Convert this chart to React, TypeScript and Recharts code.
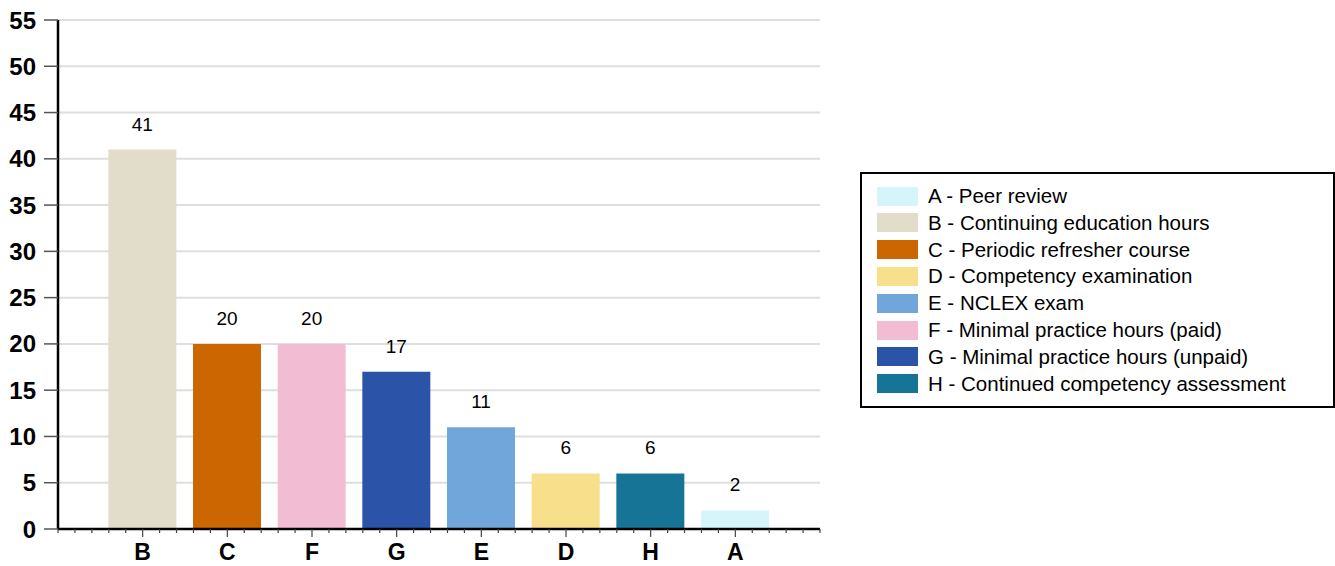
import React from 'react';
import { BarChart, Bar, XAxis, YAxis, CartesianGrid, Cell, LabelList } from 'recharts';

const categories = ['B', 'C', 'F', 'G', 'E', 'D', 'H', 'A'];
const values = [41, 20, 20, 17, 11, 6, 6, 2];
const barColors = ['#e2dccb', '#cc6600', '#f2bcd3', '#2b54a8', '#71a6da', '#f8df8b', '#167496', '#d6f5fa'];

const legendLabels = [
  'A - Peer review',
  'B - Continuing education hours',
  'C - Periodic refresher course',
  'D - Competency examination',
  'E - NCLEX exam',
  'F - Minimal practice hours (paid)',
  'G - Minimal practice hours (unpaid)',
  'H - Continued competency assessment',
];
const legendColors = ['#d6f5fa', '#e2dccb', '#cc6600', '#f8df8b', '#71a6da', '#f2bcd3', '#2b54a8', '#167496'];

const yTicks = [0, 5, 10, 15, 20, 25, 30, 35, 40, 45, 50, 55];
const xTicks = Array.from({ length: 46 }, (_, i) => Math.round(i * 2) / 10);

const data = categories.map((c, i) => ({ pos: i + 1, name: c, value: values[i], color: barColors[i] }));

const FONT = '"Liberation Sans", Arial, sans-serif';

const XTick = (props: any) => {
  const { x, y, payload } = props;
  const v = payload.value;
  const r = Math.round(v);
  const isMajor = Math.abs(v - r) < 1e-6 && r >= 1 && r <= 8;
  return (
    <g>
      <line x1={x} x2={x} y1={y} y2={y + (isMajor ? 8 : 4)} stroke="#444" strokeWidth={1.2} />
      {isMajor && (
        <text x={x} y={y + 31} textAnchor="middle" fontSize={23} fontWeight="bold" fill="#000" fontFamily={FONT}>
          {categories[r - 1]}
        </text>
      )}
    </g>
  );
};

const BarValueLabel = (props: any) => {
  const { x, y, width, value } = props;
  return (
    <text
      x={Number(x) + Number(width) / 2}
      y={Number(y) - 19}
      textAnchor="middle"
      fontSize={19}
      fill="#000"
      fontFamily={FONT}
    >
      {value}
    </text>
  );
};

export default function App() {
  return (
    <div style={{ position: 'absolute', left: 0, top: 0, width: 1335, height: 566, background: '#fff', fontFamily: FONT }}>
      <BarChart
        width={1335}
        height={566}
        data={data}
        margin={{ top: 20, right: 515, bottom: 0, left: 0 }}
      >
        <CartesianGrid horizontal vertical={false} stroke="#dedede" strokeWidth={2} />
        <XAxis
          dataKey="pos"
          type="number"
          domain={[0, 9]}
          ticks={xTicks}
          interval={0}
          height={37}
          tickSize={0}
          tickMargin={0}
          tickLine={false}
          tick={<XTick />}
          axisLine={{ stroke: '#000', strokeWidth: 2.5 }}
        />
        <YAxis
          type="number"
          domain={[0, 55]}
          ticks={yTicks}
          interval={0}
          width={58}
          tickSize={14}
          tickMargin={8}
          tickLine={{ stroke: '#555', strokeWidth: 1.5 }}
          axisLine={{ stroke: '#000', strokeWidth: 2.5 }}
          tick={{ fontSize: 24, fontWeight: 'bold', fill: '#000', fontFamily: FONT }}
        />
        <Bar dataKey="value" barSize={68} isAnimationActive={false}>
          {data.map((d, i) => (
            <Cell key={i} fill={d.color} />
          ))}
          <LabelList dataKey="value" content={<BarValueLabel />} />
        </Bar>
      </BarChart>
      <div
        style={{
          position: 'absolute',
          left: 860,
          top: 172,
          width: 471,
          height: 232,
          border: '2px solid #000',
          background: '#fff',
          boxSizing: 'content-box',
        }}
      >
        {legendLabels.map((label, i) => (
          <div
            key={i}
            style={{
              position: 'absolute',
              left: 15,
              top: 12 + i * 26.8,
              height: 20,
              display: 'flex',
              alignItems: 'center',
              whiteSpace: 'nowrap',
            }}
          >
            <div style={{ width: 41, height: 19, background: legendColors[i], marginRight: 10 }} />
            <span style={{ fontSize: 20.5, color: '#000', fontFamily: FONT }}>{label}</span>
          </div>
        ))}
      </div>
    </div>
  );
}
